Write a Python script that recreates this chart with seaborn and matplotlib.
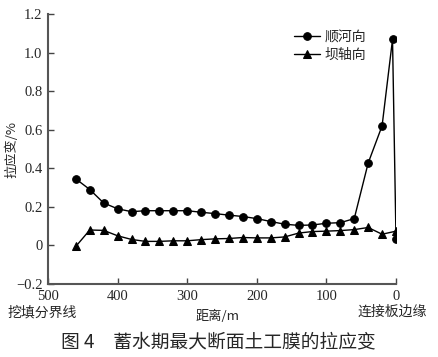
import matplotlib
matplotlib.use("Agg")
import matplotlib.pyplot as plt
import seaborn as sns
import pandas as pd

# data
dist_river = [460, 440, 420, 400, 380, 360, 340, 320, 300, 280, 260, 240, 220, 200,
              180, 160, 140, 120, 100, 80, 60, 40, 20, 5, 0]
strain_river = [0.345, 0.29, 0.22, 0.19, 0.175, 0.18, 0.18, 0.18, 0.18, 0.172, 0.165,
                0.157, 0.15, 0.139, 0.124, 0.11, 0.104, 0.106, 0.115, 0.118, 0.139,
                0.427, 0.62, 1.068, 0.035]
dist_axis = [460, 440, 420, 400, 380, 360, 340, 320, 300, 280, 260, 240, 220, 200,
             180, 160, 140, 120, 100, 80, 60, 40, 20, 0]
strain_axis = [-0.005, 0.08, 0.078, 0.05, 0.031, 0.021, 0.021, 0.024, 0.024, 0.03, 0.034,
               0.036, 0.041, 0.039, 0.039, 0.044, 0.064, 0.072, 0.074, 0.077, 0.082,
               0.093, 0.058, 0.074]
series_names = ["顺河向", "坝轴向"]
xticks = [500, 400, 300, 200, 100, 0]
yticks = [-0.2, 0, 0.2, 0.4, 0.6, 0.8, 1.0, 1.2]

sns.set_style("ticks")
plt.rcParams['font.family'] = ['Liberation Serif', 'Noto Sans CJK SC', 'DejaVu Sans']
plt.rcParams['axes.unicode_minus'] = True

fig = plt.figure(figsize=(4.39, 3.57), dpi=100)
ax = fig.add_axes([48/439, 1-284/357, 348/439, 270/357])

df1 = pd.DataFrame({"x": dist_river, "y": strain_river})
df2 = pd.DataFrame({"x": dist_axis, "y": strain_axis})
sns.lineplot(data=df1, x="x", y="y", ax=ax, sort=False, color="black", marker="o",
             markersize=5.5, markeredgecolor="black", linewidth=1.0, label=series_names[0])
sns.lineplot(data=df2, x="x", y="y", ax=ax, sort=False, color="black", marker="^",
             markersize=6, markeredgecolor="black", linewidth=1.0, label=series_names[1])

ax.set_xlim(500, 0)
ax.set_ylim(-0.2, 1.2)
ax.set_xticks(xticks)
ax.set_yticks(yticks)
ax.set_xticklabels([str(v) for v in xticks], fontsize=10.5, family='Liberation Serif')
ax.set_yticklabels(["\u22120.2", "0", "0.2", "0.4", "0.6", "0.8", "1.0", "1.2"],
                   fontsize=10.5, family='Liberation Serif')
ax.tick_params(direction="in", length=4, width=1.0, color="#444444", pad=4)
for s in ["top", "right"]:
    ax.spines[s].set_visible(False)
for s in ["left", "bottom"]:
    ax.spines[s].set_color("#555555")
    ax.spines[s].set_linewidth(1.5)

ax.set_xlabel("")
ax.set_ylabel("")
fig.text(218/439, 1-316/357, "距离/m", ha="center", va="center", fontsize=9.5,
         family=['Noto Sans CJK SC', 'Liberation Serif'])
fig.text(12/439, 1-149/357, "拉应变/%", ha="center", va="center", rotation=90, fontsize=9.5,
         family=['Noto Sans CJK SC', 'Liberation Serif'])
fig.text(42/439, 1-312/357, "挖填分界线", ha="center", va="center", fontsize=10,
         family=['Noto Sans CJK SC'])
fig.text(392/439, 1-312/357, "连接板边缘", ha="center", va="center", fontsize=10,
         family=['Noto Sans CJK SC'])
fig.text(218/439, 1-342/357, "图 4\u3000蓄水期最大断面土工膜的拉应变", ha="center", va="center",
         fontsize=13.5, family=['Noto Sans CJK SC', 'DejaVu Sans'])

leg = ax.legend(loc="upper left", bbox_to_anchor=(0.69, 0.96), frameon=False,
                prop={'family': 'Noto Sans CJK SC', 'size': 10},
                handlelength=1.9, handletextpad=0.3, labelspacing=0.25, borderaxespad=0)

fig.savefig("out.png", dpi=100)
